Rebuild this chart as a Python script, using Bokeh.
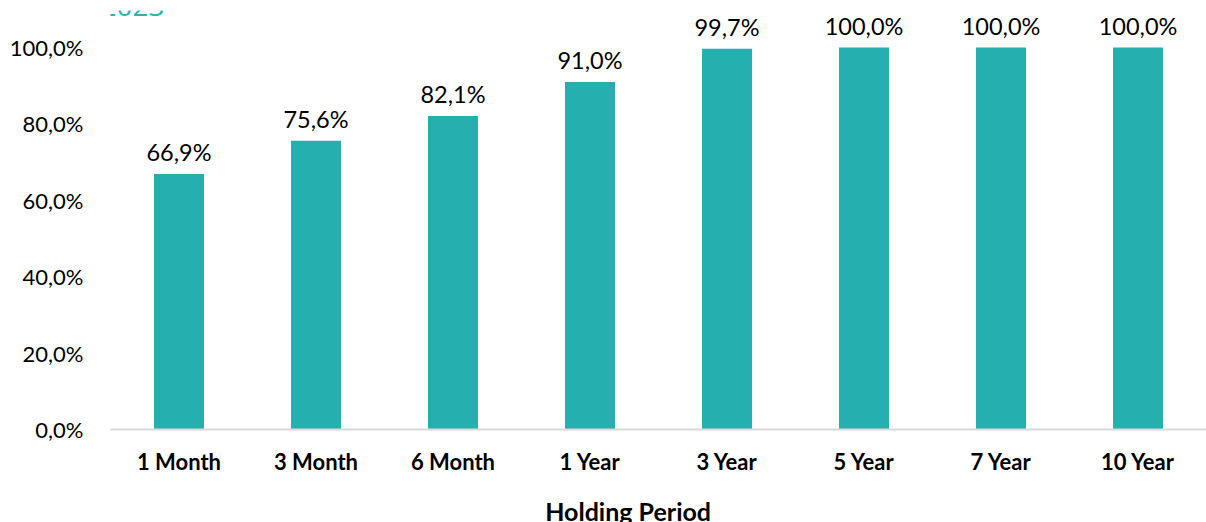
from bokeh.plotting import figure
from bokeh.models import ColumnDataSource, FactorRange, Label, FixedTicker, CustomJSTickFormatter
from bokeh.core.properties import value
from bokeh.embed import file_html
from bokeh.resources import INLINE

periods = ["1 Month", "3 Month", "6 Month", "1 Year", "3 Year", "5 Year", "7 Year", "10 Year"]
pct_positive = [66.9, 75.6, 82.1, 91.0, 99.7, 100.0, 100.0, 100.0]
labels = ["66,9%", "75,6%", "82,1%", "91,0%", "99,7%", "100,0%", "100,0%", "100,0%"]
y_ticks = [0, 20, 40, 60, 80, 100]

TEAL = "#26AFAF"

src = ColumnDataSource(dict(x=periods, top=pct_positive, label=labels))

p = figure(
    x_range=FactorRange(*periods, range_padding=0),
    y_range=(0, 109.7),
    frame_width=1096, frame_height=419,
    output_backend="svg", toolbar_location=None,
    min_border_left=110, min_border_right=0, min_border_top=10, min_border_bottom=0,
    outline_line_color=None,
)

p.vbar(x="x", top="top", width=0.365, source=src, fill_color=TEAL, line_color=None)
p.text(x="x", y="top", text="label", source=src, text_align="center", text_baseline="bottom",
       y_offset=-8, text_font=value("Lato"), text_font_size="23.5px", text_color="#000000")

p.xgrid.grid_line_color = None
p.ygrid.grid_line_color = None

p.yaxis.ticker = FixedTicker(ticks=y_ticks)
p.yaxis.formatter = CustomJSTickFormatter(code="return tick.toFixed(1).replace('.', ',') + '%';")
p.yaxis.axis_line_color = None
p.yaxis.major_tick_line_color = None
p.yaxis.minor_tick_line_color = None
p.yaxis.major_label_text_font = "Lato"
p.yaxis.major_label_text_font_size = "22px"
p.yaxis.major_label_text_color = "#000000"
p.yaxis.major_label_standoff = 21
p.yaxis.background_fill_color = None

p.xaxis.axis_line_color = "#D9D9D9"
p.xaxis.axis_line_width = 2
p.xaxis.major_tick_line_color = None
p.xaxis.minor_tick_line_color = None
p.xaxis.major_label_text_font = "Lato"
p.xaxis.major_label_text_font_style = "bold"
p.xaxis.major_label_text_font_size = "22px"
p.xaxis.major_label_text_color = "#000000"
p.xaxis.major_label_standoff = 12
p.xaxis.axis_label = "Holding Period" + "\u00a0" * 10
p.xaxis.axis_label_text_font = "Lato"
p.xaxis.axis_label_text_font_style = "bold"
p.xaxis.axis_label_text_font_size = "25px"
p.xaxis.axis_label_text_color = "#000000"
p.xaxis.axis_label_standoff = 18

p.add_layout(Label(x=-0.712, y=111.1, text="1994 - 2023", level="overlay",
                   text_font="Open Sans", text_font_size="28px", text_color="#2BB3B3",
                   text_baseline="alphabetic"))

open("out.html", "w").write(file_html(p, INLINE))
